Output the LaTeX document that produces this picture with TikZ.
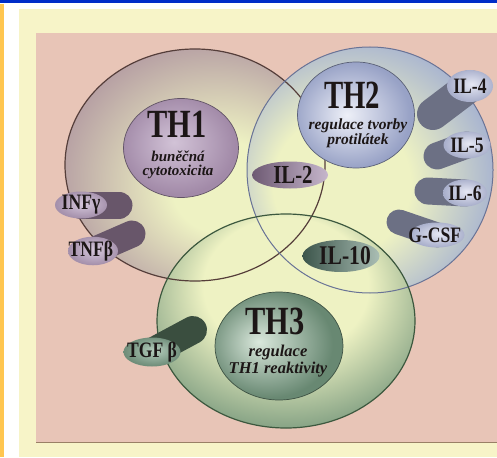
\documentclass[tikz,border=0pt]{standalone}
\usepackage{fontspec}
\setmainfont{Liberation Serif}
\usepackage{graphicx}
\usetikzlibrary{shapes.geometric}

\newcommand{\narrowtext}[2][0.8]{\scalebox{#1}[1]{#2}}

\begin{document}
\begin{tikzpicture}[x=1pt, y=-1pt,
    cellline/.style={line width=1.2pt},
    corecell/.style={ellipse, shade, line width=0.7pt, inner sep=0pt},
    thname/.style={font=\fontsize{40}{40}\selectfont\bfseries, text=inkcolor, inner sep=0pt},
    thsub/.style={text=inkcolor, align=center, inner sep=0pt},
    pillface/.style={ellipse, shade, inner sep=0pt, text=inkcolor, font=\fontsize{22}{22}\selectfont\bfseries},
    pilltail/.style={line cap=round}
]
      % Color definitions
      \definecolor{barblue}{RGB}{0, 45, 200}
      \definecolor{barorange}{RGB}{255, 198, 80}
      \definecolor{framecolor}{RGB}{247, 244, 200}
      \definecolor{pinkcolor}{RGB}{232, 197, 183}
      \definecolor{palecolor}{RGB}{238, 242, 195}
      \definecolor{inkcolor}{RGB}{28, 22, 22}
      \definecolor{thonecolor}{RGB}{180, 156, 162}
      \definecolor{thtwocolor}{RGB}{168, 180, 208}
      \definecolor{ththreecolor}{RGB}{112, 146, 120}
      \definecolor{thoneline}{RGB}{85, 62, 58}
      \definecolor{thtwoline}{RGB}{105, 115, 150}
      \definecolor{ththreeline}{RGB}{60, 88, 62}
      \definecolor{thonelight}{RGB}{210, 195, 215}
      \definecolor{thonedark}{RGB}{162, 138, 168}
      \definecolor{thtwolight}{RGB}{238, 240, 248}
      \definecolor{thtwodark}{RGB}{152, 162, 198}
      \definecolor{ththreelight}{RGB}{218, 232, 220}
      \definecolor{ththreedark}{RGB}{104, 136, 114}
      \definecolor{thonepilllight}{RGB}{214, 200, 220}
      \definecolor{thonepillmid}{RGB}{165, 145, 172}
      \definecolor{thonetail}{RGB}{104, 86, 106}
      \definecolor{thtwopilllight}{RGB}{230, 232, 244}
      \definecolor{thtwopillmid}{RGB}{170, 176, 204}
      \definecolor{thtwotail}{RGB}{108, 112, 132}
      \definecolor{ththreepilllight}{RGB}{180, 204, 188}
      \definecolor{ththreepillmid}{RGB}{112, 142, 122}
      \definecolor{ththreetail}{RGB}{58, 78, 63}
      \definecolor{iltwodark}{RGB}{110, 90, 115}
      \definecolor{iltwolight}{RGB}{198, 182, 204}
      \definecolor{iltendark}{RGB}{60, 85, 75}
      \definecolor{iltenlight}{RGB}{170, 190, 180}

      % Shadings
      \pgfdeclareradialshading{thonecell}{\pgfpoint{7bp}{-6bp}}{color(0bp)=(palecolor); color(10bp)=(palecolor); color(30bp)=(thonecolor); color(50bp)=(thonecolor)}
      \pgfdeclareradialshading{thtwocell}{\pgfpoint{-8bp}{-4bp}}{color(0bp)=(palecolor); color(14bp)=(palecolor); color(29bp)=(thtwocolor); color(50bp)=(thtwocolor)}
      \pgfdeclareradialshading{ththreecell}{\pgfpoint{0bp}{12bp}}{color(0bp)=(palecolor); color(16bp)=(palecolor); color(33bp)=(ththreecolor); color(50bp)=(ththreecolor)}
      \pgfdeclareradialshading{thonecore}{\pgfpoint{-3bp}{3bp}}{color(0bp)=(thonelight); color(25bp)=(thonedark); color(50bp)=(thonedark)}
      \pgfdeclareradialshading{thtwocore}{\pgfpoint{-4bp}{0bp}}{color(0bp)=(thtwolight); color(25bp)=(thtwodark); color(50bp)=(thtwodark)}
      \pgfdeclareradialshading{ththreecore}{\pgfpoint{-8bp}{2bp}}{color(0bp)=(ththreelight); color(25bp)=(ththreedark); color(50bp)=(ththreedark)}
      \pgfdeclareradialshading{thonepill}{\pgfpoint{2bp}{3bp}}{color(0bp)=(thonepilllight); color(25bp)=(thonepillmid); color(50bp)=(thonepillmid)}
      \pgfdeclareradialshading{thtwopill}{\pgfpoint{2bp}{3bp}}{color(0bp)=(thtwopilllight); color(25bp)=(thtwopillmid); color(50bp)=(thtwopillmid)}
      \pgfdeclareradialshading{ththreepill}{\pgfpoint{2bp}{3bp}}{color(0bp)=(ththreepilllight); color(25bp)=(ththreepillmid); color(50bp)=(ththreepillmid)}

      % Page and frame
      \fill[white] (0,0) rectangle (497,457);
      \useasboundingbox (0,0) rectangle (497,457);
      \fill[barblue] (0,0) rectangle (497,3.5);
      \fill[barorange] (0,4) rectangle (3.5,457);
      \fill[framecolor] (19,9) rectangle (497,457);
      \fill[pinkcolor] (36,33) rectangle (497,442);
      \draw[gray!60!brown, line width=0.8pt] (36,442) -- (497,442);

      % Cell bodies
      \shade[shading=thonecell] (195,165) ellipse [x radius=130, y radius=116];
      \shade[shading=thtwocell] (370,170) circle [radius=123];
      \shade[shading=ththreecell] (286,321) ellipse [x radius=129, y radius=107];

      % Cell outlines
      \draw[cellline, thoneline] (195,165) ellipse [x radius=130, y radius=116];
      \draw[cellline, thtwoline, line width=1pt] (370,170) circle [radius=123];
      \draw[cellline, ththreeline] (286,321) ellipse [x radius=129, y radius=107];

      % Cores with names
      \node[corecell, shading=thonecore, draw=thonedark!60!black, minimum width=115, minimum height=99] (thonecore) at (181,148) {};
      \node[corecell, shading=thtwocore, draw=thtwodark!60!black, minimum width=117, minimum height=106] (thtwocore) at (356,115) {};
      \node[corecell, shading=ththreecore, draw=ththreedark!60!black, minimum width=128, minimum height=108] (ththreecore) at (279,346) {};

      \node[thname] (thonename) at (177,124) {\narrowtext[0.76]{TH1}};
      \node[thname] (thtwoname) at (352,95) {\narrowtext[0.72]{TH2}};
      \node[thname] (ththreename) at (275,321) {\narrowtext[0.76]{TH3}};

      \node[thsub, font=\fontsize{15}{13.5}\selectfont\bfseries\itshape] (thonesub) at (178,165) {buněčná\\cytotoxicita};
      \node[thsub, font=\fontsize{15.5}{14}\selectfont\bfseries\itshape] (thtwosub) at (358,133) {regulace tvorby\\protilátek};
      \node[thsub, font=\fontsize{16.5}{17}\selectfont\bfseries\itshape] (ththreesub) at (278,361) {regulace\\TH1 reaktivity};

      % Cytokines of TH1
      \foreach \name/\fx/\fy/\ex/\ey/\w/\h/\txt in {
          infg/81/205/119/205/52/27/INFγ,
          tnfb/93/251/132/234/50/27/TNFβ
      } {
          \coordinate (\name-face) at (\fx,\fy);
          \coordinate (\name-end) at (\ex,\ey);
          \draw[pilltail, thonetail, line width=\h] (\name-face) -- (\name-end);
          \node[pillface, shading=thonepill, minimum width=\w, minimum height=\h] (\name) at (\name-face) {\makebox[0pt]{\narrowtext{\txt}}};
      }

      % Cytokines of TH2
      \foreach \name/\fx/\fy/\ex/\ey/\w/\h/\txt in {
          ilfour/470/86/433/114/46/32/IL-4,
          ilfive/467/145/437/156/47/27/IL-5,
          ilsix/465/193/428/191/44/27/IL-6,
          gcsf/437/235/399/222/55/25/G-CSF
      } {
          \coordinate (\name-face) at (\fx,\fy);
          \coordinate (\name-end) at (\ex,\ey);
          \draw[pilltail, thtwotail, line width=\h] (\name-face) -- (\name-end);
          \node[pillface, shading=thtwopill, minimum width=\w, minimum height=\h] (\name) at (\name-face) {\makebox[0pt]{\narrowtext{\txt}}};
      }

      % Cytokine of TH3
      \coordinate (tgfb-face) at (152,352);
      \coordinate (tgfb-end) at (193,330);
      \draw[pilltail, ththreetail, line width=28] (tgfb-face) -- (tgfb-end);
      \node[pillface, shading=ththreepill, minimum width=57, minimum height=29] (tgfb) at (tgfb-face) {\makebox[0pt]{\narrowtext{TGF β}}};

      % Shared cytokines
      \node[pillface, left color=iltwodark, right color=iltwolight, minimum width=76, minimum height=27, font=\fontsize{26}{26}\selectfont\bfseries] (iltwo) at (290,175) {\makebox[0pt]{\hspace{6pt}\narrowtext{IL-2}}};
      \node[pillface, left color=iltendark, right color=iltenlight, minimum width=77, minimum height=32, font=\fontsize{27}{27}\selectfont\bfseries] (ilten) at (341,256) {\makebox[0pt]{\hspace{8pt}\narrowtext{IL-10}}};

\end{tikzpicture}
\end{document}
